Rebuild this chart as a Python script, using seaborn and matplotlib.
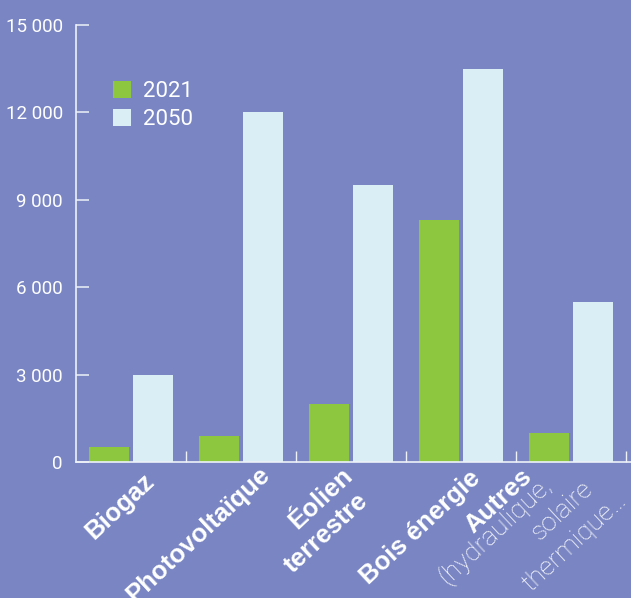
import numpy as np
import pandas as pd
import matplotlib
matplotlib.use("Agg")
import matplotlib.pyplot as plt
from matplotlib.ticker import FuncFormatter, FixedLocator
import seaborn as sns

categories = ["Biogaz", "Photovoltaïque", "Éolien terrestre", "Bois énergie", "Autres"]
years = ["2021", "2050"]
prod_2021 = [500, 900, 2000, 8300, 1000]
prod_2050 = [3000, 12000, 9500, 13500, 5500]
y_ticks = [0, 3000, 6000, 9000, 12000, 15000]

# x labels, one entry per line: (text, bold?)
label_lines = [
    [("Biogaz", True)],
    [("Photovoltaïque", True)],
    [("Éolien", True), ("terrestre", True)],
    [("Bois énergie", True)],
    [("Autres", True), ("(hydraulique,", False), ("solaire", False), ("thermique…", False)],
]
# pixel offsets (right, down) of each line's baseline middle from the category
label_offsets = [
    [(-6, 50)],
    [(-38, 78)],
    [(-25, 42), (-20, 76)],
    [(-36, 71)],
    [(-68, 44), (-71, 74), (-4, 54), (8, 85)],
]

bg = "#7A86C3"
green = "#8DC63F"
light = "#DAEEF6"
line_col = "#EEF2F8"

df = pd.DataFrame({
    "cat": categories * 2,
    "year": [years[0]] * len(categories) + [years[1]] * len(categories),
    "val": prod_2021 + prod_2050,
})

sns.set_theme(style="white")
plt.rcParams["font.family"] = ["Roboto", "DejaVu Sans"]

fig = plt.figure(figsize=(6.31, 5.98), dpi=100, facecolor=bg)
ax = fig.add_axes([76 / 631, 136 / 598, 555 / 631, 437 / 598])
ax.set_facecolor(bg)

sns.barplot(data=df, x="cat", y="val", hue="year", order=categories, hue_order=years,
            palette={years[0]: green, years[1]: light}, saturation=1,
            width=0.8, gap=0.1, linewidth=0, errorbar=None, ax=ax)

ax.set_xlim(-0.5, -0.5 + 555 / 110)
ax.set_ylim(0, 15000)
ax.set_xlabel("")
ax.set_ylabel("")

for s in ["top", "right"]:
    ax.spines[s].set_visible(False)
for s in ["left", "bottom"]:
    ax.spines[s].set_color(line_col)
    ax.spines[s].set_linewidth(1.2)

ax.yaxis.set_major_locator(FixedLocator(y_ticks))
ax.yaxis.set_major_formatter(FuncFormatter(lambda v, p: f"{int(v):,}".replace(",", " ")))
ax.tick_params(axis="y", direction="in", length=9.5, width=1.1, color=line_col,
               labelcolor="white", labelsize=13.5, pad=9.5, left=True)

ax.set_xticks(range(len(categories)))
ax.set_xticklabels([])
ax.tick_params(axis="x", which="major", length=0)
ax.xaxis.set_minor_locator(FixedLocator(np.arange(len(categories)) + 0.5))
ax.tick_params(axis="x", which="minor", direction="in", length=8, width=1,
               color=line_col, bottom=True)

for i, lines in enumerate(label_lines):
    for (txt, bold), (dx, dy) in zip(lines, label_offsets[i]):
        if bold:
            kw = dict(family=["Liberation Sans", "DejaVu Sans"], fontweight="bold", fontsize=18.5)
        else:
            kw = dict(family=["Roboto", "DejaVu Sans"], fontweight="light", fontsize=19)
        ax.annotate(txt, xy=(i, 0), xycoords="data", xytext=(dx, -dy),
                    textcoords="offset pixels", rotation=43, rotation_mode="anchor",
                    ha="center", va="baseline", color="white", annotation_clip=False, **kw)

leg = ax.legend(loc="upper left", bbox_to_anchor=(113 / 631, 1 - 81 / 598),
                bbox_transform=fig.transFigure, frameon=False, fontsize=16,
                handlelength=0.8, handleheight=0.8, handletextpad=0.55,
                labelspacing=0.3, borderpad=0, borderaxespad=0)
for t in leg.get_texts():
    t.set_color("white")

fig.savefig("out.png", dpi=100, facecolor=bg)
